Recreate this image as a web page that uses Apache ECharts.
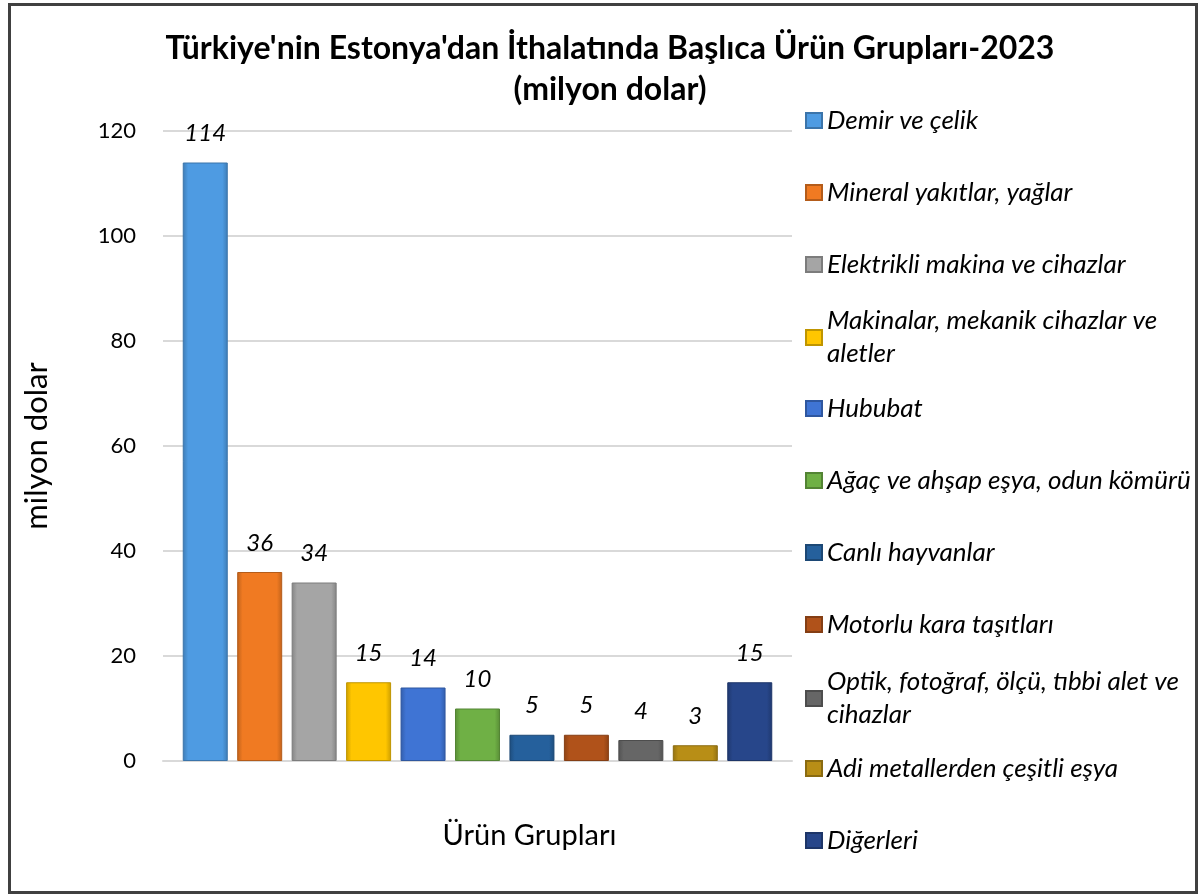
<!DOCTYPE html>
<html>
<head>
<meta charset="utf-8">
<script src="https://cdn.jsdelivr.net/npm/echarts@6/dist/echarts.min.js"></script>
<style>
  html, body { margin: 0; padding: 0; background: #fff; }
  #chart { width: 1200px; height: 895px; }
</style>
</head>
<body>
<div id="chart"></div>
<script>
const productGroups = [
  'Demir ve çelik',
  'Mineral yakıtlar, yağlar',
  'Elektrikli makina ve cihazlar',
  'Makinalar, mekanik cihazlar ve aletler',
  'Hububat',
  'Ağaç ve ahşap eşya, odun kömürü',
  'Canlı hayvanlar',
  'Motorlu kara taşıtları',
  'Optik, fotoğraf, ölçü, tıbbi alet ve cihazlar',
  'Adi metallerden çeşitli eşya',
  'Diğerleri'
];
const importValues = [114, 36, 34, 15, 14, 10, 5, 5, 4, 3, 15];
const barColors = ['#4e9be2', '#f07a22', '#a5a5a5', '#ffc600', '#3f74d4', '#6fb045',
                   '#25609c', '#b0521a', '#666666', '#b88e16', '#27468a'];
const yTicks = { min: 0, max: 120, interval: 20 };

const FONT = 'Lato';

function shade(hex, f) {
  const n = parseInt(hex.slice(1), 16);
  const r = Math.round(((n >> 16) & 255) * f);
  const g = Math.round(((n >> 8) & 255) * f);
  const b = Math.round((n & 255) * f);
  return 'rgb(' + Math.min(r, 255) + ',' + Math.min(g, 255) + ',' + Math.min(b, 255) + ')';
}

function bevel(hex) {
  return new echarts.graphic.LinearGradient(0, 0, 1, 0, [
    { offset: 0, color: shade(hex, 0.8) },
    { offset: 0.12, color: hex },
    { offset: 0.88, color: hex },
    { offset: 1, color: shade(hex, 0.8) }
  ]);
}

const chart = echarts.init(document.getElementById('chart'));

const series = productGroups.map((name, i) => ({
  name: name,
  type: 'bar',
  data: [importValues[i]],
  barWidth: 45,
  barGap: '21%',
  itemStyle: {
    color: bevel(barColors[i]),
    borderColor: shade(barColors[i], 0.75),
    borderWidth: 1
  },
  label: {
    show: true,
    position: 'top',
    distance: 17,
    fontFamily: FONT,
    fontStyle: 'italic',
    fontSize: 24,
    color: '#000'
  }
}));

// legend: one component per entry so the rows keep a fixed pitch
const legendY = [120, 192, 264, 336, 408, 480, 552, 624, 697, 768, 840];
const wrapped = [3, 8];
const legends = productGroups.map((name, i) => {
  const wrap = wrapped.includes(i);
  return {
    orient: 'vertical',
    left: 805,
    top: wrap ? legendY[i] - 43 : legendY[i] - 21,
    padding: 0,
    itemWidth: 16,
    itemHeight: 15,
    itemGap: 10,
    icon: 'rect',
    selectedMode: false,
    data: [name],
    formatter: n => wrap ? n.replace(/ (\S+)$/, '\n$1') : n,
    textStyle: {
      fontFamily: FONT,
      fontStyle: 'italic',
      fontSize: 26,
      lineHeight: 33,
      color: '#000',
      padding: wrap ? [23, 0, 0, 0] : [0, 0, 10, 0]
    },
    itemStyle: { color: barColors[i] }
  };
});

const option = {
  backgroundColor: '#fff',
  animation: false,
  title: {
    text: "Türkiye'nin Estonya'dan İthalatında Başlıca Ürün Grupları-2023\n(milyon dolar)",
    left: 605,
    textAlign: 'center',
    top: 23,
    textStyle: {
      fontFamily: FONT,
      fontWeight: 'bold',
      fontSize: 32,
      lineHeight: 41,
      color: '#000'
    }
  },
  legend: legends,
  grid: { left: 163, right: 408, top: 131, bottom: 134 },
  xAxis: {
    type: 'category',
    data: [''],
    name: 'Ürün Grupları',
    nameLocation: 'middle',
    nameGap: 60,
    nameTextStyle: { fontFamily: FONT, fontSize: 29, color: '#000', padding: [0, 0, 0, 104] },
    axisLine: { lineStyle: { color: '#d9d9d9', width: 2 } },
    axisTick: { show: false },
    axisLabel: { show: false }
  },
  yAxis: {
    type: 'value',
    min: yTicks.min,
    max: yTicks.max,
    interval: yTicks.interval,
    name: 'milyon dolar',
    nameLocation: 'middle',
    nameRotate: 90,
    nameGap: 111,
    nameTextStyle: { fontFamily: FONT, fontSize: 31, color: '#000' },
    axisLine: { show: false },
    axisTick: { show: false },
    axisLabel: { fontFamily: FONT, fontSize: 22, color: '#000', margin: 27 },
    splitLine: { lineStyle: { color: '#d9d9d9', width: 2 } }
  },
  graphic: [{
    type: 'rect',
    shape: { x: 9.5, y: 4.5, width: 1187, height: 888 },
    style: { fill: 'none', stroke: '#404040', lineWidth: 3 },
    silent: true,
    z: 100
  }],
  series: series
};

chart.setOption(option);
window.addEventListener('resize', () => chart.resize());
</script>
</body>
</html>
